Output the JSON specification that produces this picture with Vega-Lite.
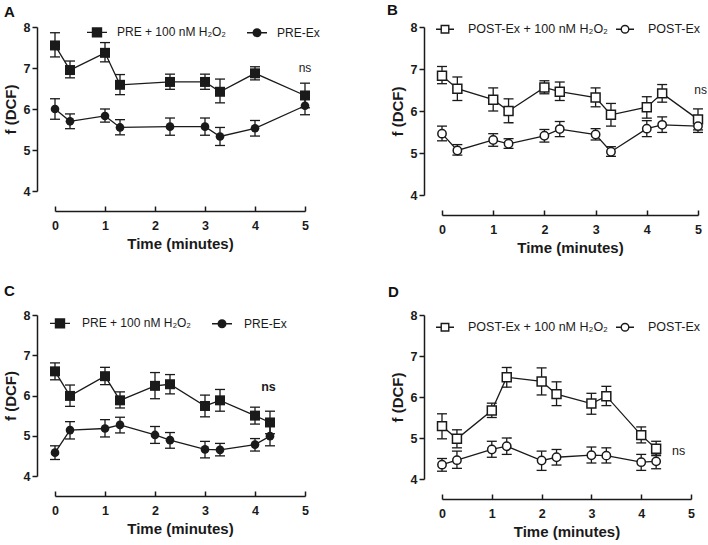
{
  "$schema": "https://vega.github.io/schema/vega-lite/v6.json",
  "padding": {"left": 3, "top": 3, "right": 0, "bottom": 0},
  "background": "white",
  "columns": 2,
  "bounds": "flush",
  "spacing": {"row": 120, "column": 137},
  "resolve": {"scale": {"shape": "independent", "x": "independent", "y": "independent"}, "legend": {"shape": "independent"}},
  "config": {
    "view": {"stroke": null},
    "font": "Liberation Sans",
    "title": {"fontSize": 15, "fontWeight": "bold", "color": "#111", "anchor": "start", "frame": "group"},
    "axisX": {"domainColor": "#1a1a1a", "domainWidth": 1.5, "tickColor": "#1a1a1a", "tickWidth": 1.5, "tickSize": -5, "offset": 20, "grid": false, "values": [0, 1, 2, 3, 4, 5], "labelFontSize": 12.5, "labelFontWeight": "bold", "labelColor": "#1a1a1a", "labelPadding": 13, "titleFontSize": 15, "titleFontWeight": "bold", "titleColor": "#1a1a1a", "titlePadding": 5, "labelFlush": false},
    "axisY": {"domainColor": "#1a1a1a", "domainWidth": 1.5, "tickColor": "#1a1a1a", "tickWidth": 1.5, "tickSize": 5, "offset": 18, "grid": false, "values": [4, 5, 6, 7, 8], "labelFontSize": 12.5, "labelFontWeight": "bold", "labelColor": "#1a1a1a", "labelPadding": 2, "titleFontSize": 15, "titleFontWeight": "bold", "titleColor": "#1a1a1a", "titlePadding": 5, "labelFlush": false},
    "legend": {"labelFont": "Liberation Sans", "labelColor": "#1a1a1a", "symbolOpacity": 1, "padding": 0, "symbolStrokeColor": "#1a1a1a", "symbolStrokeWidth": 1.4}
  },
  "concat": [
    {
      "width": 250, "height": 164,
      "title": {"text": "A", "dx": -51, "offset": 1},
      "data": {"values": [
        {"t": 0, "v": 7.55, "lo": 7.27, "hi": 7.86, "s": "PRE + 100 nM H₂O₂"},
        {"t": 0.3, "v": 6.95, "lo": 6.76, "hi": 7.17, "s": "PRE + 100 nM H₂O₂"},
        {"t": 1, "v": 7.37, "lo": 7.15, "hi": 7.62, "s": "PRE + 100 nM H₂O₂"},
        {"t": 1.3, "v": 6.59, "lo": 6.35, "hi": 6.84, "s": "PRE + 100 nM H₂O₂"},
        {"t": 2.3, "v": 6.66, "lo": 6.48, "hi": 6.85, "s": "PRE + 100 nM H₂O₂"},
        {"t": 3, "v": 6.66, "lo": 6.48, "hi": 6.85, "s": "PRE + 100 nM H₂O₂"},
        {"t": 3.3, "v": 6.42, "lo": 6.15, "hi": 6.73, "s": "PRE + 100 nM H₂O₂"},
        {"t": 4, "v": 6.87, "lo": 6.71, "hi": 7.03, "s": "PRE + 100 nM H₂O₂"},
        {"t": 5, "v": 6.33, "lo": 6.03, "hi": 6.63, "s": "PRE + 100 nM H₂O₂"},
        {"t": 0, "v": 6.0, "lo": 5.75, "hi": 6.25, "s": "PRE-Ex"},
        {"t": 0.3, "v": 5.7, "lo": 5.52, "hi": 5.88, "s": "PRE-Ex"},
        {"t": 1, "v": 5.83, "lo": 5.68, "hi": 6.0, "s": "PRE-Ex"},
        {"t": 1.3, "v": 5.55, "lo": 5.37, "hi": 5.74, "s": "PRE-Ex"},
        {"t": 2.3, "v": 5.57, "lo": 5.36, "hi": 5.78, "s": "PRE-Ex"},
        {"t": 3, "v": 5.57, "lo": 5.36, "hi": 5.78, "s": "PRE-Ex"},
        {"t": 3.3, "v": 5.33, "lo": 5.11, "hi": 5.55, "s": "PRE-Ex"},
        {"t": 4, "v": 5.53, "lo": 5.34, "hi": 5.72, "s": "PRE-Ex"},
        {"t": 5, "v": 6.08, "lo": 5.86, "hi": 6.32, "s": "PRE-Ex"}
      ]},
      "encoding": {
        "x": {"field": "t", "type": "quantitative", "scale": {"domain": [0, 5], "nice": false, "zero": false}, "axis": {"title": "Time (minutes)"}},
        "y": {"field": "v", "type": "quantitative", "scale": {"domain": [4, 8], "nice": false, "zero": false}, "axis": {"title": "f (DCF)"}}
      },
      "layer": [
        {"mark": {"type": "rule", "color": "#1a1a1a", "strokeWidth": 1.3}, "encoding": {"y": {"field": "lo", "type": "quantitative"}, "y2": {"field": "hi"}}},
        {"mark": {"type": "tick", "color": "#1a1a1a", "size": 10, "thickness": 1.3, "orient": "horizontal", "opacity": 1}, "encoding": {"y": {"field": "lo", "type": "quantitative"}}},
        {"mark": {"type": "tick", "color": "#1a1a1a", "size": 10, "thickness": 1.3, "orient": "horizontal", "opacity": 1}, "encoding": {"y": {"field": "hi", "type": "quantitative"}}},
        {"mark": {"type": "line", "color": "#1a1a1a", "strokeWidth": 1.3}, "encoding": {"detail": {"field": "s"}}},
        {"transform": [{"filter": {"field": "s", "equal": "PRE + 100 nM H₂O₂"}}], "mark": {"type": "point", "shape": "square", "filled": true, "size": 100, "color": "#1a1a1a", "opacity": 1}},
        {"transform": [{"filter": {"field": "s", "equal": "PRE-Ex"}}], "mark": {"type": "point", "shape": "circle", "filled": true, "size": 75, "color": "#1a1a1a", "opacity": 1}},
        {"mark": {"type": "point", "opacity": 0, "filled": false, "color": "#1a1a1a", "stroke": "#1a1a1a", "strokeWidth": 1.4}, "encoding": {"shape": {"field": "s", "type": "nominal", "scale": {"domain": ["PRE + 100 nM H₂O₂", "PRE-Ex"], "range": ["M-1,0H-0.45M0.45,0H1M-0.45,-0.45H0.45V0.45H-0.45ZM-0.35,-0.35H0.35V0.35H-0.35ZM-0.25,-0.25H0.25V0.25H-0.25ZM-0.15,-0.15H0.15V0.15H-0.15ZM-0.05,-0.05H0.05V0.05H-0.05Z", "M-1,0H-0.38M0.38,0H1M0.38,0A0.38,0.38,0,1,1,-0.38,0A0.38,0.38,0,1,1,0.38,0ZM0.28,0A0.28,0.28,0,1,1,-0.28,0A0.28,0.28,0,1,1,0.28,0ZM0.18,0A0.18,0.18,0,1,1,-0.18,0A0.18,0.18,0,1,1,0.18,0ZM0.08,0A0.08,0.08,0,1,1,-0.08,0A0.08,0.08,0,1,1,0.08,0Z"]}, "legend": {"orient": "none", "legendX": 31, "legendY": -6, "direction": "horizontal", "title": null, "symbolSize": 400, "symbolStrokeColor": "#1a1a1a", "symbolStrokeWidth": 1.4, "labelFontSize": 12, "labelOffset": 9, "columnPadding": 17}}}},
        {"data": {"values": [{"t": 5, "v": 7.0, "lab": "ns"}]}, "mark": {"type": "text", "fontSize": 12, "color": "#1a1a1a", "fill": "#1a1a1a", "opacity": 1}, "encoding": {"text": {"field": "lab"}}}
      ]
    },
    {
      "width": 256, "height": 168,
      "title": {"text": "B", "dx": -55, "offset": 1},
      "data": {"values": [
        {"t": 0, "v": 6.84, "lo": 6.65, "hi": 7.06, "s": "POST-Ex + 100 nM H₂O₂"},
        {"t": 0.3, "v": 6.53, "lo": 6.25, "hi": 6.81, "s": "POST-Ex + 100 nM H₂O₂"},
        {"t": 1, "v": 6.27, "lo": 6.0, "hi": 6.55, "s": "POST-Ex + 100 nM H₂O₂"},
        {"t": 1.3, "v": 6.0, "lo": 5.72, "hi": 6.29, "s": "POST-Ex + 100 nM H₂O₂"},
        {"t": 2, "v": 6.56, "lo": 6.41, "hi": 6.72, "s": "POST-Ex + 100 nM H₂O₂"},
        {"t": 2.3, "v": 6.46, "lo": 6.25, "hi": 6.69, "s": "POST-Ex + 100 nM H₂O₂"},
        {"t": 3, "v": 6.32, "lo": 6.1, "hi": 6.55, "s": "POST-Ex + 100 nM H₂O₂"},
        {"t": 3.3, "v": 5.91, "lo": 5.64, "hi": 6.18, "s": "POST-Ex + 100 nM H₂O₂"},
        {"t": 4, "v": 6.09, "lo": 5.83, "hi": 6.34, "s": "POST-Ex + 100 nM H₂O₂"},
        {"t": 4.3, "v": 6.42, "lo": 6.21, "hi": 6.63, "s": "POST-Ex + 100 nM H₂O₂"},
        {"t": 5, "v": 5.8, "lo": 5.55, "hi": 6.05, "s": "POST-Ex + 100 nM H₂O₂"},
        {"t": 0, "v": 5.46, "lo": 5.29, "hi": 5.64, "s": "POST-Ex"},
        {"t": 0.3, "v": 5.06, "lo": 4.95, "hi": 5.2, "s": "POST-Ex"},
        {"t": 1, "v": 5.31, "lo": 5.16, "hi": 5.46, "s": "POST-Ex"},
        {"t": 1.3, "v": 5.22, "lo": 5.11, "hi": 5.34, "s": "POST-Ex"},
        {"t": 2, "v": 5.41, "lo": 5.26, "hi": 5.56, "s": "POST-Ex"},
        {"t": 2.3, "v": 5.57, "lo": 5.39, "hi": 5.75, "s": "POST-Ex"},
        {"t": 3, "v": 5.44, "lo": 5.31, "hi": 5.58, "s": "POST-Ex"},
        {"t": 3.3, "v": 5.03, "lo": 4.92, "hi": 5.15, "s": "POST-Ex"},
        {"t": 4, "v": 5.58, "lo": 5.39, "hi": 5.77, "s": "POST-Ex"},
        {"t": 4.3, "v": 5.67, "lo": 5.49, "hi": 5.86, "s": "POST-Ex"},
        {"t": 5, "v": 5.64, "lo": 5.49, "hi": 5.8, "s": "POST-Ex"}
      ]},
      "encoding": {
        "x": {"field": "t", "type": "quantitative", "scale": {"domain": [0, 5], "nice": false, "zero": false}, "axis": {"title": "Time (minutes)"}},
        "y": {"field": "v", "type": "quantitative", "scale": {"domain": [4, 8], "nice": false, "zero": false}, "axis": {"title": "f (DCF)"}}
      },
      "layer": [
        {"mark": {"type": "rule", "color": "#1a1a1a", "strokeWidth": 1.3}, "encoding": {"y": {"field": "lo", "type": "quantitative"}, "y2": {"field": "hi"}}},
        {"mark": {"type": "tick", "color": "#1a1a1a", "size": 10, "thickness": 1.3, "orient": "horizontal", "opacity": 1}, "encoding": {"y": {"field": "lo", "type": "quantitative"}}},
        {"mark": {"type": "tick", "color": "#1a1a1a", "size": 10, "thickness": 1.3, "orient": "horizontal", "opacity": 1}, "encoding": {"y": {"field": "hi", "type": "quantitative"}}},
        {"mark": {"type": "line", "color": "#1a1a1a", "strokeWidth": 1.3}, "encoding": {"detail": {"field": "s"}}},
        {"transform": [{"filter": {"field": "s", "equal": "POST-Ex + 100 nM H₂O₂"}}], "mark": {"type": "point", "shape": "square", "filled": true, "fill": "white", "stroke": "#1a1a1a", "strokeWidth": 1.5, "size": 80, "opacity": 1}},
        {"transform": [{"filter": {"field": "s", "equal": "POST-Ex"}}], "mark": {"type": "point", "shape": "circle", "filled": true, "fill": "white", "stroke": "#1a1a1a", "strokeWidth": 1.5, "size": 70, "opacity": 1}},
        {"mark": {"type": "point", "opacity": 0, "filled": false, "color": "#1a1a1a", "stroke": "#1a1a1a", "strokeWidth": 1.4}, "encoding": {"shape": {"field": "s", "type": "nominal", "scale": {"domain": ["POST-Ex + 100 nM H₂O₂", "POST-Ex"], "range": ["M-1,0H-0.42M0.42,0H1M-0.42,-0.42H0.42V0.42H-0.42Z", "M-1,0H-0.42M0.42,0H1M0.42,0A0.42,0.42,0,1,1,-0.42,0A0.42,0.42,0,1,1,0.42,0Z"]}, "legend": {"orient": "none", "legendX": -7, "legendY": -8, "direction": "horizontal", "title": null, "symbolSize": 324, "symbolStrokeColor": "#1a1a1a", "symbolStrokeWidth": 1.4, "labelFontSize": 12.5, "labelOffset": 13, "columnPadding": 5}}}},
        {"data": {"values": [{"t": 5.05, "v": 6.5, "lab": "ns"}]}, "mark": {"type": "text", "fontSize": 12, "color": "#1a1a1a", "fill": "#1a1a1a", "opacity": 1}, "encoding": {"text": {"field": "lab"}}}
      ]
    },
    {
      "width": 250, "height": 161,
      "title": {"text": "C", "dx": -51, "offset": 10},
      "data": {"values": [
        {"t": 0, "v": 6.6, "lo": 6.39, "hi": 6.81, "s": "PRE + 100 nM H₂O₂"},
        {"t": 0.3, "v": 5.99, "lo": 5.73, "hi": 6.26, "s": "PRE + 100 nM H₂O₂"},
        {"t": 1, "v": 6.48, "lo": 6.27, "hi": 6.7, "s": "PRE + 100 nM H₂O₂"},
        {"t": 1.3, "v": 5.88, "lo": 5.69, "hi": 6.09, "s": "PRE + 100 nM H₂O₂"},
        {"t": 2, "v": 6.24, "lo": 5.92, "hi": 6.57, "s": "PRE + 100 nM H₂O₂"},
        {"t": 2.3, "v": 6.28, "lo": 6.04, "hi": 6.52, "s": "PRE + 100 nM H₂O₂"},
        {"t": 3, "v": 5.74, "lo": 5.47, "hi": 6.01, "s": "PRE + 100 nM H₂O₂"},
        {"t": 3.3, "v": 5.88, "lo": 5.61, "hi": 6.15, "s": "PRE + 100 nM H₂O₂"},
        {"t": 4, "v": 5.5, "lo": 5.29, "hi": 5.71, "s": "PRE + 100 nM H₂O₂"},
        {"t": 4.3, "v": 5.33, "lo": 5.05, "hi": 5.61, "s": "PRE + 100 nM H₂O₂"},
        {"t": 0, "v": 4.58, "lo": 4.41, "hi": 4.75, "s": "PRE-Ex"},
        {"t": 0.3, "v": 5.14, "lo": 4.92, "hi": 5.35, "s": "PRE-Ex"},
        {"t": 1, "v": 5.18, "lo": 4.97, "hi": 5.4, "s": "PRE-Ex"},
        {"t": 1.3, "v": 5.27, "lo": 5.07, "hi": 5.46, "s": "PRE-Ex"},
        {"t": 2, "v": 5.02, "lo": 4.81, "hi": 5.23, "s": "PRE-Ex"},
        {"t": 2.3, "v": 4.89, "lo": 4.69, "hi": 5.08, "s": "PRE-Ex"},
        {"t": 3, "v": 4.66, "lo": 4.45, "hi": 4.86, "s": "PRE-Ex"},
        {"t": 3.3, "v": 4.65, "lo": 4.5, "hi": 4.81, "s": "PRE-Ex"},
        {"t": 4, "v": 4.78, "lo": 4.62, "hi": 4.93, "s": "PRE-Ex"},
        {"t": 4.3, "v": 4.99, "lo": 4.75, "hi": 5.26, "s": "PRE-Ex"}
      ]},
      "encoding": {
        "x": {"field": "t", "type": "quantitative", "scale": {"domain": [0, 5], "nice": false, "zero": false}, "axis": {"title": "Time (minutes)"}},
        "y": {"field": "v", "type": "quantitative", "scale": {"domain": [4, 8], "nice": false, "zero": false}, "axis": {"title": "f (DCF)"}}
      },
      "layer": [
        {"mark": {"type": "rule", "color": "#1a1a1a", "strokeWidth": 1.3}, "encoding": {"y": {"field": "lo", "type": "quantitative"}, "y2": {"field": "hi"}}},
        {"mark": {"type": "tick", "color": "#1a1a1a", "size": 10, "thickness": 1.3, "orient": "horizontal", "opacity": 1}, "encoding": {"y": {"field": "lo", "type": "quantitative"}}},
        {"mark": {"type": "tick", "color": "#1a1a1a", "size": 10, "thickness": 1.3, "orient": "horizontal", "opacity": 1}, "encoding": {"y": {"field": "hi", "type": "quantitative"}}},
        {"mark": {"type": "line", "color": "#1a1a1a", "strokeWidth": 1.3}, "encoding": {"detail": {"field": "s"}}},
        {"transform": [{"filter": {"field": "s", "equal": "PRE + 100 nM H₂O₂"}}], "mark": {"type": "point", "shape": "square", "filled": true, "size": 100, "color": "#1a1a1a", "opacity": 1}},
        {"transform": [{"filter": {"field": "s", "equal": "PRE-Ex"}}], "mark": {"type": "point", "shape": "circle", "filled": true, "size": 75, "color": "#1a1a1a", "opacity": 1}},
        {"mark": {"type": "point", "opacity": 0, "filled": false, "color": "#1a1a1a", "stroke": "#1a1a1a", "strokeWidth": 1.4}, "encoding": {"shape": {"field": "s", "type": "nominal", "scale": {"domain": ["PRE + 100 nM H₂O₂", "PRE-Ex"], "range": ["M-1,0H-0.45M0.45,0H1M-0.45,-0.45H0.45V0.45H-0.45ZM-0.35,-0.35H0.35V0.35H-0.35ZM-0.25,-0.25H0.25V0.25H-0.25ZM-0.15,-0.15H0.15V0.15H-0.15ZM-0.05,-0.05H0.05V0.05H-0.05Z", "M-1,0H-0.38M0.38,0H1M0.38,0A0.38,0.38,0,1,1,-0.38,0A0.38,0.38,0,1,1,0.38,0ZM0.28,0A0.28,0.28,0,1,1,-0.28,0A0.28,0.28,0,1,1,0.28,0ZM0.18,0A0.18,0.18,0,1,1,-0.18,0A0.18,0.18,0,1,1,0.18,0ZM0.08,0A0.08,0.08,0,1,1,-0.08,0A0.08,0.08,0,1,1,0.08,0Z"]}, "legend": {"orient": "none", "legendX": -6, "legendY": -3, "direction": "horizontal", "title": null, "symbolSize": 400, "symbolStrokeColor": "#1a1a1a", "symbolStrokeWidth": 1.4, "labelFontSize": 12, "labelOffset": 11, "columnPadding": 17}}}},
        {"data": {"values": [{"t": 4.27, "v": 6.22, "lab": "ns"}]}, "mark": {"type": "text", "fontSize": 12.5, "fontWeight": "bold", "color": "#1a1a1a", "fill": "#1a1a1a", "opacity": 1}, "encoding": {"text": {"field": "lab"}}}
      ]
    },
    {
      "width": 249, "height": 164,
      "title": {"text": "D", "dx": -54, "offset": 9},
      "data": {"values": [
        {"t": 0, "v": 5.29, "lo": 4.98, "hi": 5.59, "s": "POST-Ex + 100 nM H₂O₂"},
        {"t": 0.3, "v": 4.98, "lo": 4.76, "hi": 5.2, "s": "POST-Ex + 100 nM H₂O₂"},
        {"t": 1, "v": 5.67, "lo": 5.5, "hi": 5.85, "s": "POST-Ex + 100 nM H₂O₂"},
        {"t": 1.3, "v": 6.48, "lo": 6.24, "hi": 6.72, "s": "POST-Ex + 100 nM H₂O₂"},
        {"t": 2, "v": 6.38, "lo": 6.05, "hi": 6.71, "s": "POST-Ex + 100 nM H₂O₂"},
        {"t": 2.3, "v": 6.07, "lo": 5.79, "hi": 6.37, "s": "POST-Ex + 100 nM H₂O₂"},
        {"t": 3, "v": 5.84, "lo": 5.58, "hi": 6.09, "s": "POST-Ex + 100 nM H₂O₂"},
        {"t": 3.3, "v": 6.02, "lo": 5.79, "hi": 6.26, "s": "POST-Ex + 100 nM H₂O₂"},
        {"t": 4, "v": 5.07, "lo": 4.88, "hi": 5.27, "s": "POST-Ex + 100 nM H₂O₂"},
        {"t": 4.3, "v": 4.74, "lo": 4.57, "hi": 4.92, "s": "POST-Ex + 100 nM H₂O₂"},
        {"t": 0, "v": 4.35, "lo": 4.19, "hi": 4.5, "s": "POST-Ex"},
        {"t": 0.3, "v": 4.46, "lo": 4.26, "hi": 4.68, "s": "POST-Ex"},
        {"t": 1, "v": 4.72, "lo": 4.53, "hi": 4.92, "s": "POST-Ex"},
        {"t": 1.3, "v": 4.8, "lo": 4.6, "hi": 5.0, "s": "POST-Ex"},
        {"t": 2, "v": 4.45, "lo": 4.21, "hi": 4.68, "s": "POST-Ex"},
        {"t": 2.3, "v": 4.53, "lo": 4.34, "hi": 4.72, "s": "POST-Ex"},
        {"t": 3, "v": 4.58, "lo": 4.39, "hi": 4.78, "s": "POST-Ex"},
        {"t": 3.3, "v": 4.57, "lo": 4.39, "hi": 4.76, "s": "POST-Ex"},
        {"t": 4, "v": 4.41, "lo": 4.21, "hi": 4.6, "s": "POST-Ex"},
        {"t": 4.3, "v": 4.43, "lo": 4.25, "hi": 4.61, "s": "POST-Ex"}
      ]},
      "encoding": {
        "x": {"field": "t", "type": "quantitative", "scale": {"domain": [0, 5], "nice": false, "zero": false}, "axis": {"title": "Time (minutes)"}},
        "y": {"field": "v", "type": "quantitative", "scale": {"domain": [4, 8], "nice": false, "zero": false}, "axis": {"title": "f (DCF)"}}
      },
      "layer": [
        {"mark": {"type": "rule", "color": "#1a1a1a", "strokeWidth": 1.3}, "encoding": {"y": {"field": "lo", "type": "quantitative"}, "y2": {"field": "hi"}}},
        {"mark": {"type": "tick", "color": "#1a1a1a", "size": 10, "thickness": 1.3, "orient": "horizontal", "opacity": 1}, "encoding": {"y": {"field": "lo", "type": "quantitative"}}},
        {"mark": {"type": "tick", "color": "#1a1a1a", "size": 10, "thickness": 1.3, "orient": "horizontal", "opacity": 1}, "encoding": {"y": {"field": "hi", "type": "quantitative"}}},
        {"mark": {"type": "line", "color": "#1a1a1a", "strokeWidth": 1.3}, "encoding": {"detail": {"field": "s"}}},
        {"transform": [{"filter": {"field": "s", "equal": "POST-Ex + 100 nM H₂O₂"}}], "mark": {"type": "point", "shape": "square", "filled": true, "fill": "white", "stroke": "#1a1a1a", "strokeWidth": 1.5, "size": 80, "opacity": 1}},
        {"transform": [{"filter": {"field": "s", "equal": "POST-Ex"}}], "mark": {"type": "point", "shape": "circle", "filled": true, "fill": "white", "stroke": "#1a1a1a", "strokeWidth": 1.5, "size": 70, "opacity": 1}},
        {"mark": {"type": "point", "opacity": 0, "filled": false, "color": "#1a1a1a", "stroke": "#1a1a1a", "strokeWidth": 1.4}, "encoding": {"shape": {"field": "s", "type": "nominal", "scale": {"domain": ["POST-Ex + 100 nM H₂O₂", "POST-Ex"], "range": ["M-1,0H-0.42M0.42,0H1M-0.42,-0.42H0.42V0.42H-0.42Z", "M-1,0H-0.42M0.42,0H1M0.42,0A0.42,0.42,0,1,1,-0.42,0A0.42,0.42,0,1,1,0.42,0Z"]}, "legend": {"orient": "none", "legendX": -7, "legendY": 2, "direction": "horizontal", "title": null, "symbolSize": 324, "symbolStrokeColor": "#1a1a1a", "symbolStrokeWidth": 1.4, "labelFontSize": 12.5, "labelOffset": 13, "columnPadding": 5}}}},
        {"data": {"values": [{"t": 4.75, "v": 4.68, "lab": "ns"}]}, "mark": {"type": "text", "fontSize": 12.5, "color": "#1a1a1a", "fill": "#1a1a1a", "opacity": 1}, "encoding": {"text": {"field": "lab"}}}
      ]
    }
  ]
}
